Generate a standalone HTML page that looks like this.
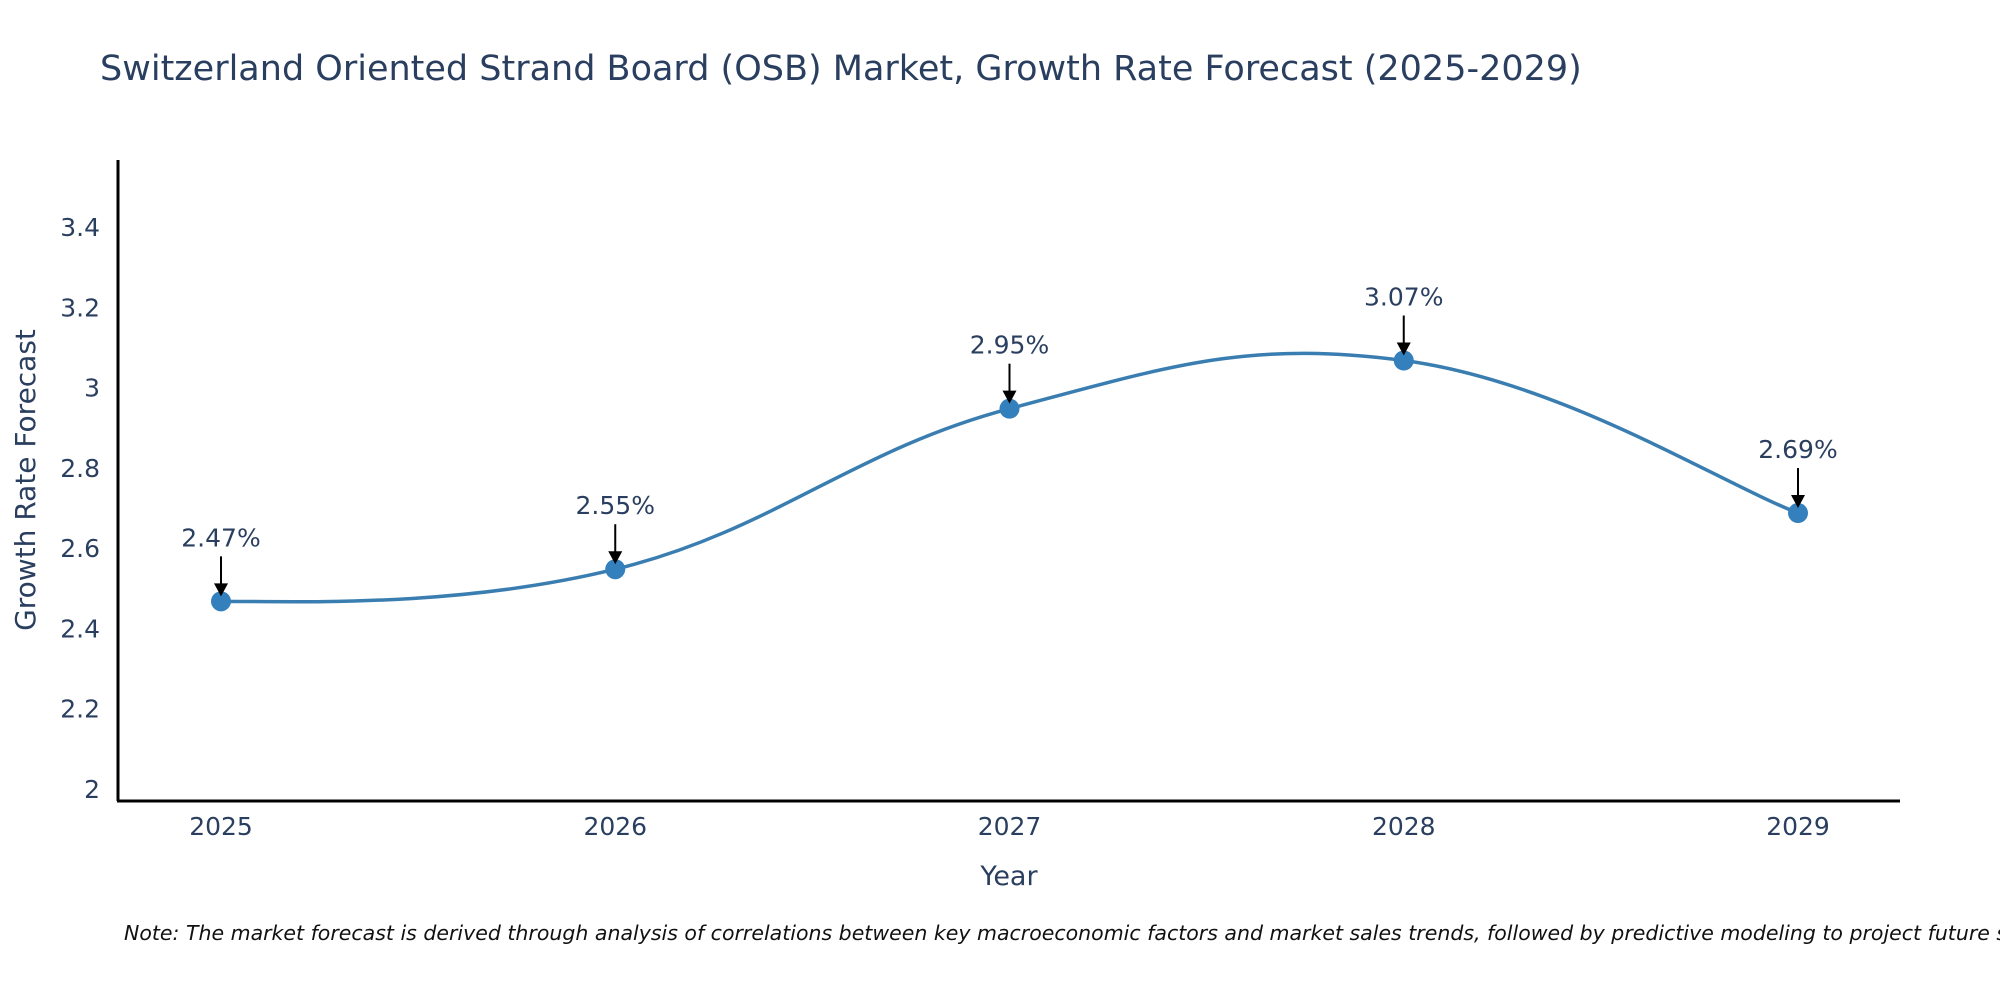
<!DOCTYPE html>
<html><head><meta charset="utf-8"><style>
body{margin:0;background:#fff;}
svg text{font-family:"DejaVu Sans","Liberation Sans",sans-serif;fill:#2a3f5f;}
</style></head><body>
<svg id="chart" width="2000" height="1000" xmlns="http://www.w3.org/2000/svg">
<text x="100" y="80" font-size="35">Switzerland Oriented Strand Board (OSB) Market, Growth Rate Forecast (2025-2029)</text>
<g id="yticks"></g>
<g id="xticks"></g>
<path id="line" fill="none" stroke="#3a7eb1" stroke-width="3.5"/>
<g id="marks"></g>
<line x1="118" y1="160" x2="118" y2="801" stroke="#000" stroke-width="3"/>
<line x1="117" y1="801" x2="1900" y2="801" stroke="#000" stroke-width="3"/>
<text x="1009" y="885" font-size="27" text-anchor="middle">Year</text>
<text transform="translate(35,480) rotate(-90)" font-size="28" text-anchor="middle">Growth Rate Forecast</text>
<text x="124" y="940" font-size="20.5" font-style="italic" style="fill:#111">Note: The market forecast is derived through analysis of correlations between key macroeconomic factors and market sales trends, followed by predictive modeling to project future sales.</text>
</svg>
<script>
const years=[2025,2026,2027,2028,2029];
const values=[2.47,2.55,2.95,3.07,2.69];
const labels=["2.47%","2.55%","2.95%","3.07%","2.69%"];
const yTicks=[2,2.2,2.4,2.6,2.8,3,3.2,3.4];
const yTickLabels=["2","2.2","2.4","2.6","2.8","3","3.2","3.4"];
const NS="http://www.w3.org/2000/svg";
function xs(v){return 221+(v-2025)*394.25;}
function ys(v){return 790-(v-2)*401.4;}
const yg=document.getElementById('yticks');
yTicks.forEach((t,i)=>{const e=document.createElementNS(NS,'text');


e.setAttribute('x',100);e.setAttribute('y',ys(t)+8);e.setAttribute('font-size','25');e.setAttribute('text-anchor','end');e.textContent=yTickLabels[i];yg.appendChild(e);});
const xg=document.getElementById('xticks');
years.forEach(y=>{const e=document.createElementNS(NS,'text');


e.setAttribute('x',xs(y));e.setAttribute('y',835);e.setAttribute('font-size','25');e.setAttribute('text-anchor','middle');e.textContent=y;xg.appendChild(e);});
const P=years.map((y,i)=>[xs(y),ys(values[i])]);
let d='M'+P[0][0]+','+P[0][1];
for(let i=0;i<P.length-1;i++){const p0=P[Math.max(0,i-1)],p1=P[i],p2=P[i+1],p3=P[Math.min(P.length-1,i+2)];
const k=0.2;
const c1=[p1[0]+(p2[0]-p0[0])*k,p1[1]+(p2[1]-p0[1])*k],c2=[p2[0]-(p3[0]-p1[0])*k,p2[1]-(p3[1]-p1[1])*k];
if(i===0)c1[1]=p1[1];
d+=' C'+c1+' '+c2+' '+p2;}
document.getElementById('line').setAttribute('d',d);
const mg=document.getElementById('marks');
P.forEach((p,i)=>{
const c=document.createElementNS(NS,'circle');


c.setAttribute('cx',p[0]);c.setAttribute('cy',p[1]);c.setAttribute('r',10);c.setAttribute('fill','#3480bd');mg.appendChild(c);
const l=document.createElementNS(NS,'line');


l.setAttribute('x1',p[0]);l.setAttribute('y1',p[1]-45);l.setAttribute('x2',p[0]);l.setAttribute('y2',p[1]-14);l.setAttribute('stroke','#000');l.setAttribute('stroke-width','2');mg.appendChild(l);
const h=document.createElementNS(NS,'polygon');


h.setAttribute('points',(p[0]-7)+','+(p[1]-18)+' '+(p[0]+7)+','+(p[1]-18)+' '+p[0]+','+(p[1]-5));mg.appendChild(h);
const t=document.createElementNS(NS,'text');


t.setAttribute('x',p[0]);t.setAttribute('y',p[1]-55);t.setAttribute('font-size','25');t.setAttribute('text-anchor','middle');t.textContent=labels[i];mg.appendChild(t);
});
</script>
</body></html>
